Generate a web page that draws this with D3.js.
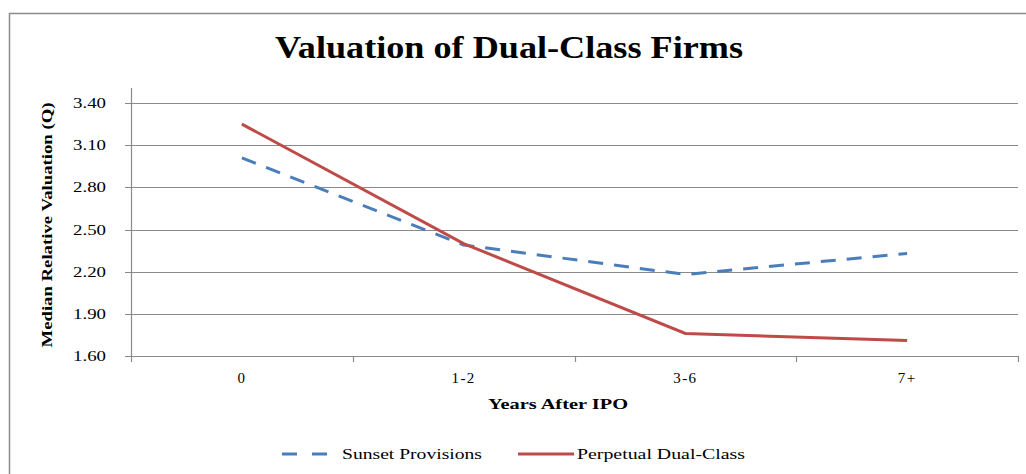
<!DOCTYPE html>
<html>
<head>
<meta charset="utf-8">
<script src="https://cdn.jsdelivr.net/npm/d3@7"></script>
<style>
  body { margin: 0; background: #fff; }
  svg { display: block; }
</style>
</head>
<body>
<svg id="chart" width="1026" height="474"></svg>
<script>
// chart data
const categories = ["0", "1-2", "3-6", "7+"];
const sunset = [3.01, 2.39, 2.18, 2.33];
const perpetual = [3.25, 2.40, 1.76, 1.71];
const yTicks = [1.60, 1.90, 2.20, 2.50, 2.80, 3.10, 3.40];
const seriesNames = ["Sunset Provisions", "Perpetual Dual-Class"];

const width = 1026, height = 474;
const margin = { left: 131, right: 1018, top: 103, bottom: 356 };
const serif = "'Liberation Serif', 'DejaVu Serif', serif";

const svg = d3.select("#chart");

// outer frame (only top and left edges visible)
svg.append("path")
  .attr("d", "M9.5,474 V13.5 H1026")
  .attr("fill", "none")
  .attr("stroke", "#8c8c8c")
  .attr("stroke-width", 1.5);

const x = d3.scaleBand()
  .domain(categories)
  .range([margin.left, margin.right]);

const y = d3.scaleLinear()
  .domain([1.6, 3.4])
  .range([margin.bottom, margin.top]);

// gridlines
svg.append("g")
  .selectAll("line")
  .data(yTicks)
  .join("line")
    .attr("x1", margin.left - 6)
    .attr("x2", margin.right)
    .attr("y1", d => Math.round(y(d)) + 0.5)
    .attr("y2", d => Math.round(y(d)) + 0.5)
    .attr("stroke", "#8a8a8a")
    .attr("stroke-width", 1.2);

// y axis line
svg.append("line")
  .attr("x1", margin.left + 0.5).attr("x2", margin.left + 0.5)
  .attr("y1", 88).attr("y2", margin.bottom)
  .attr("stroke", "#8a8a8a")
  .attr("stroke-width", 1.2);

// x tick marks at band boundaries
const bounds = categories.map(c => x(c)).concat([margin.right]);
svg.append("g")
  .selectAll("line")
  .data(bounds)
  .join("line")
    .attr("x1", d => Math.round(d) + 0.5)
    .attr("x2", d => Math.round(d) + 0.5)
    .attr("y1", margin.bottom)
    .attr("y2", margin.bottom + 6)
    .attr("stroke", "#8a8a8a")
    .attr("stroke-width", 1.2);

// y tick labels
svg.append("g")
  .selectAll("text")
  .data(yTicks)
  .join("text")
    .attr("x", 106)
    .attr("y", d => y(d) + 5)
    .attr("text-anchor", "end")
    .attr("font-family", serif)
    .attr("font-size", 14)
    .attr("fill", "#000")
    .attr("textLength", 33)
    .attr("lengthAdjust", "spacingAndGlyphs")
    .text(d => d.toFixed(2));

// x tick labels
svg.append("g")
  .selectAll("text")
  .data(categories)
  .join("text")
    .attr("x", d => x(d) + x.bandwidth() / 2)
    .attr("y", 383)
    .attr("text-anchor", "middle")
    .attr("font-family", serif)
    .attr("font-size", 15)
    .attr("letter-spacing", 1.5)
    .text(d => d);

// title
svg.append("text")
  .attr("x", 509)
  .attr("y", 58)
  .attr("text-anchor", "middle")
  .attr("font-family", serif)
  .attr("font-size", 31)
  .attr("font-weight", "bold")
  .attr("textLength", 468)
  .attr("lengthAdjust", "spacingAndGlyphs")
  .text("Valuation of Dual-Class Firms");

// axis titles
svg.append("text")
  .attr("x", 558)
  .attr("y", 409)
  .attr("text-anchor", "middle")
  .attr("font-family", serif)
  .attr("font-size", 15)
  .attr("font-weight", "bold")
  .attr("textLength", 140)
  .attr("lengthAdjust", "spacingAndGlyphs")
  .text("Years After IPO");

svg.append("text")
  .attr("transform", "translate(52,225) rotate(-90)")
  .attr("text-anchor", "middle")
  .attr("font-family", serif)
  .attr("font-size", 15)
  .attr("font-weight", "bold")
  .attr("textLength", 245)
  .attr("lengthAdjust", "spacingAndGlyphs")
  .text("Median Relative Valuation (Q)");

// series lines
const line = d3.line()
  .x((d, i) => x(categories[i]) + x.bandwidth() / 2)
  .y(d => y(d));

svg.append("path")
  .datum(sunset)
  .attr("d", line)
  .attr("fill", "none")
  .attr("stroke", "#4a7ebb")
  .attr("stroke-width", 3)
  .attr("stroke-dasharray", "15,11");

svg.append("path")
  .datum(perpetual)
  .attr("d", line)
  .attr("fill", "none")
  .attr("stroke", "#be4b48")
  .attr("stroke-width", 3);

// legend
const legend = svg.append("g");
legend.append("line")
  .attr("x1", 282).attr("x2", 330)
  .attr("y1", 454).attr("y2", 454)
  .attr("stroke", "#4a7ebb")
  .attr("stroke-width", 3)
  .attr("stroke-dasharray", "15,15");
legend.append("text")
  .attr("x", 342).attr("y", 459)
  .attr("font-family", serif)
  .attr("font-size", 15)
  .attr("textLength", 140)
  .attr("lengthAdjust", "spacingAndGlyphs")
  .text(seriesNames[0]);
legend.append("line")
  .attr("x1", 518).attr("x2", 574)
  .attr("y1", 454).attr("y2", 454)
  .attr("stroke", "#be4b48")
  .attr("stroke-width", 3);
legend.append("text")
  .attr("x", 577).attr("y", 459)
  .attr("font-family", serif)
  .attr("font-size", 15)
  .attr("textLength", 168)
  .attr("lengthAdjust", "spacingAndGlyphs")
  .text(seriesNames[1]);
</script>
</body>
</html>
